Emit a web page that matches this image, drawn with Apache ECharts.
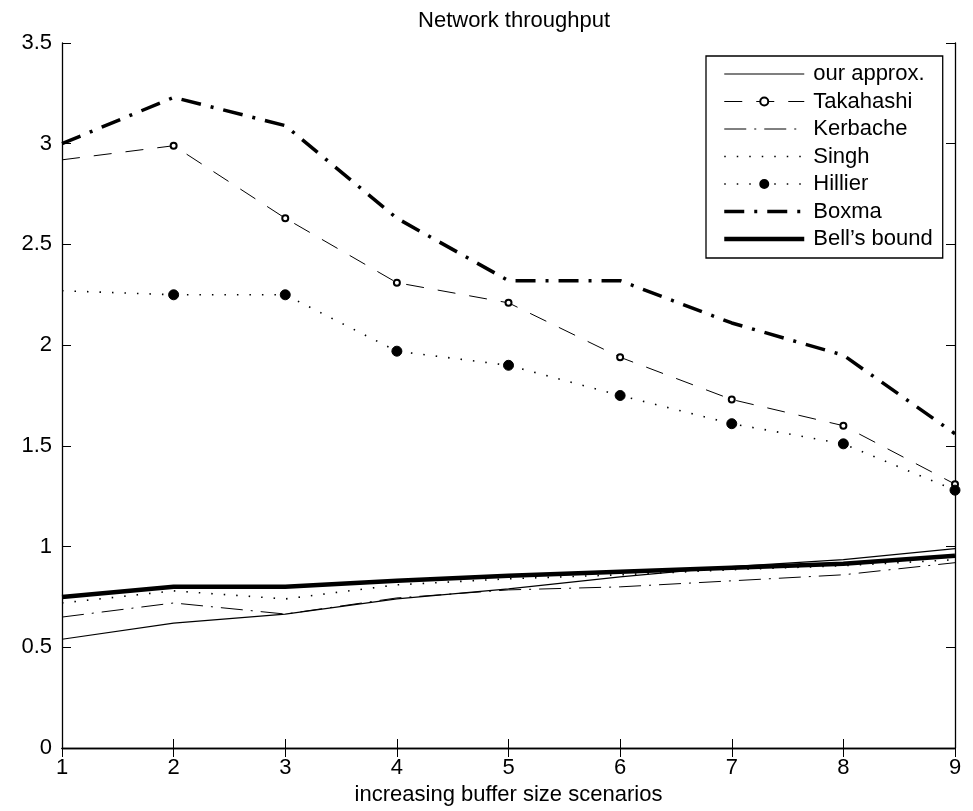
<!DOCTYPE html>
<html>
<head>
<meta charset="utf-8">
<script src="https://cdn.jsdelivr.net/npm/echarts@6/dist/echarts.min.js"></script>
<style>
  html, body { margin: 0; padding: 0; background: #fff; }
  #chart { width: 973px; height: 811px; }
</style>
</head>
<body>
<div id="chart"></div>
<script>
// scenario index on the x axis
const scenarios = [1, 2, 3, 4, 5, 6, 7, 8, 9]

// values
const ourApprox = [0.54, 0.62, 0.665, 0.74, 0.79, 0.85, 0.90, 0.935, 0.99]
const takahashi = [2.92, 2.99, 2.63, 2.31, 2.21, 1.94, 1.73, 1.60, 1.31]
const kerbache = [0.65, 0.72, 0.665, 0.745, 0.785, 0.80, 0.83, 0.86, 0.92]
const singh = [0.72, 0.78, 0.74, 0.81, 0.84, 0.86, 0.885, 0.905, 0.935]
const hillier = [2.27, 2.25, 2.25, 1.97, 1.90, 1.75, 1.61, 1.51, 1.28]
const boxma = [3.0, 3.23, 3.09, 2.63, 2.32, 2.32, 2.11, 1.95, 1.56]
const bellsBound = [0.75, 0.80, 0.80, 0.83, 0.855, 0.875, 0.895, 0.915, 0.955]

const yTicks = [0, 0.5, 1, 1.5, 2, 2.5, 3, 3.5]

const FONT = 'Liberation Sans, Arial, Helvetica, sans-serif'
const FS = 22

// line looks, shared by the plot and the legend
const styles = {
  approx: { color: '#000', width: 1.2, type: 'solid' },
  taka: { color: '#000', width: 1, type: [18, 14] },
  kerb: { color: '#000', width: 1, type: [22, 8, 2, 8] },
  singh: { color: '#000', width: 1.6, type: [1.5, 11] },
  hill: { color: '#000', width: 1.6, type: [1.5, 11] },
  boxma: { color: '#000', width: 3.5, type: [20, 10, 3, 10] },
  bell: { color: '#000', width: 4.5, type: 'solid' }
}

// pair x with y; the first point of a marked series has no marker
const pts = (arr, hideFirst) => arr.map((v, i) => {
  if (hideFirst && i === 0) return { value: [scenarios[i], v], symbol: 'none' }
  return [scenarios[i], v]
})

const chart = echarts.init(document.getElementById('chart'))

const lineSeries = (name, data, lineStyle, extra) => Object.assign({
  name: name,
  type: 'line',
  data: data,
  symbol: 'none',
  showSymbol: false,
  clip: false,
  lineStyle: lineStyle,
  itemStyle: { color: '#000' },
  emphasis: { disabled: true }
}, extra || {})

// legend entries without a marker: hide the default dot
const noMark = { color: 'rgba(0,0,0,0)', borderWidth: 0 }

const option = {
  animation: false,
  backgroundColor: '#fff',
  title: {
    text: 'Network throughput',
    left: 509,
    textAlign: 'center',
    top: 5,
    textStyle: { fontFamily: FONT, fontSize: FS, fontWeight: 'normal', color: '#000' }
  },
  legend: {
    orient: 'vertical',
    left: 706,
    top: 56,
    padding: [7, 10, 8, 16],
    itemWidth: 80,
    itemHeight: 10,
    itemGap: 5.5,
    borderColor: '#000',
    borderWidth: 1.3,
    backgroundColor: '#fff',
    textStyle: { fontFamily: FONT, fontSize: FS, color: '#000', padding: [0, 0, 0, 4] },
    data: [
      { name: 'our approx.', itemStyle: noMark, lineStyle: styles.approx },
      { name: 'Takahashi', lineStyle: styles.taka },
      { name: 'Kerbache', itemStyle: noMark, lineStyle: styles.kerb },
      { name: 'Singh', itemStyle: noMark, lineStyle: styles.singh },
      { name: 'Hillier', lineStyle: styles.hill },
      { name: 'Boxma', itemStyle: noMark, lineStyle: styles.boxma },
      { name: 'Bell\u2019s bound', itemStyle: noMark, lineStyle: styles.bell }
    ]
  },
  grid: { left: 62, top: 43, width: 893, height: 705, containLabel: false },
  xAxis: [
    {
      type: 'value',
      min: 1,
      max: 9,
      interval: 1,
      name: 'increasing buffer size scenarios',
      nameLocation: 'middle',
      nameGap: 35,
      nameTextStyle: { fontFamily: FONT, fontSize: FS, color: '#000' },
      axisLine: { lineStyle: { color: '#000', width: 1.3 } },
      axisTick: { inside: true, length: 9, lineStyle: { color: '#000' } },
      axisLabel: { fontFamily: FONT, fontSize: FS, color: '#000', margin: 9 },
      splitLine: { show: false }
    },
    {
      type: 'value',
      position: 'top',
      min: 1,
      max: 9,
      interval: 1,
      axisLine: { show: true, lineStyle: { color: '#000', width: 1.3 } },
      axisTick: { show: true, inside: true, length: 9, lineStyle: { color: '#000' } },
      axisLabel: { show: false },
      splitLine: { show: false }
    }
  ],
  yAxis: [
    {
      type: 'value',
      min: 0,
      max: 3.5,
      interval: 0.5,
      axisLine: { show: true, lineStyle: { color: '#000', width: 1.3 } },
      axisTick: { show: true, inside: true, length: 9, lineStyle: { color: '#000' } },
      axisLabel: {
        fontFamily: FONT, fontSize: FS, color: '#000', margin: 10,
        formatter: v => (yTicks.indexOf(v) >= 0 ? String(v) : '')
      },
      splitLine: { show: false }
    },
    {
      type: 'value',
      position: 'right',
      min: 0,
      max: 3.5,
      interval: 0.5,
      axisLine: { show: true, lineStyle: { color: '#000', width: 1.3 } },
      axisTick: { show: true, inside: true, length: 9, lineStyle: { color: '#000' } },
      axisLabel: { show: false },
      splitLine: { show: false }
    }
  ],
  series: [
    lineSeries('our approx.', pts(ourApprox), styles.approx),
    lineSeries('Takahashi', pts(takahashi, true), styles.taka, {
      symbol: 'emptyCircle', showSymbol: true, symbolSize: 6,
      itemStyle: { color: '#000', borderWidth: 1 }
    }),
    lineSeries('Kerbache', pts(kerbache), styles.kerb),
    lineSeries('Singh', pts(singh), styles.singh),
    lineSeries('Hillier', pts(hillier, true), styles.hill, {
      symbol: 'circle', showSymbol: true, symbolSize: 10,
      itemStyle: { color: '#000', borderColor: '#000', borderWidth: 1 }
    }),
    lineSeries('Boxma', pts(boxma), styles.boxma),
    lineSeries('Bell\u2019s bound', pts(bellsBound), styles.bell)
  ]
}

chart.setOption(option)
</script>
</body>
</html>
